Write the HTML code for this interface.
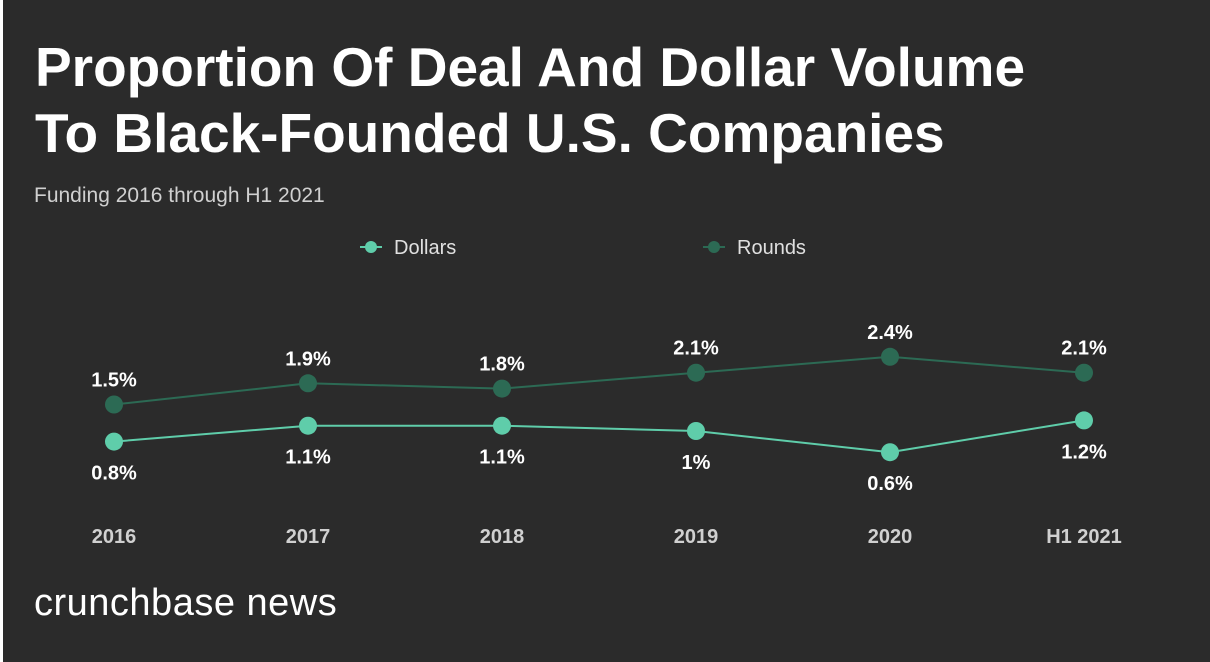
<!DOCTYPE html>
<html><head><meta charset="utf-8">
<style>
body{margin:0;background:#fff;}
#wrap{position:absolute;left:3px;top:0;width:1207px;height:662px;background:#2b2b2b;font-family:"Liberation Sans",sans-serif;color:#fff;overflow:hidden}
h1{position:absolute;left:32px;top:34px;margin:0;font-size:55px;line-height:66px;font-weight:bold;letter-spacing:0px}
.sub{position:absolute;left:31px;top:184px;font-size:21px;color:#d0d0d0}
.brand{position:absolute;left:31px;top:582px;font-size:38px;letter-spacing:0.5px}
svg{position:absolute;left:0;top:0}
</style></head><body>
<div id="wrap">
<h1>Proportion Of Deal And Dollar Volume<br>To Black-Founded U.S. Companies</h1>
<div class="sub">Funding 2016 through H1 2021</div>
<div class="brand">crunchbase news</div>
<svg id="chart" width="1207" height="662"></svg>
</div>
<script>
const categories=["2016","2017","2018","2019","2020","H1 2021"];
const dollars=[0.8,1.1,1.1,1.0,0.6,1.2];
const rounds=[1.5,1.9,1.8,2.1,2.4,2.1];
const dollarLabels=["0.8%","1.1%","1.1%","1%","0.6%","1.2%"];
const roundLabels=["1.5%","1.9%","1.8%","2.1%","2.4%","2.1%"];
const NS="http://www.w3.org/2000/svg";
const svg=document.getElementById('chart');
const x=i=>111+i*194;
const y=v=>484-53*v;
function mk(t,a,p){const e=document.createElementNS(NS,t);for(const k in a)e.setAttribute(k,a[k]);(p||svg).appendChild(e);return e;}
const series=[{name:"dollars",vals:dollars,labels:dollarLabels,color:"#5fcdaa",below:true},
{name:"rounds",vals:rounds,labels:roundLabels,color:"#2c6a54",below:false}];
series.forEach(s=>{
 const g=mk('g',{});
 
 
 const pl=mk('polyline',{points:s.vals.map((v,i)=>x(i)+','+y(v)).join(' '),fill:'none',stroke:s.color,'stroke-width':2},g);
 
 
 s.vals.forEach((v,i)=>{
  const c=mk('circle',{cx:x(i),cy:y(v),r:9,fill:s.color},g);
  
  
  const t=mk('text',{x:x(i),y:s.below?y(v)+38:y(v)-18,'text-anchor':'middle','font-size':20,'font-weight':'bold',fill:'#fff'},g);
  t.textContent=s.labels[i];
  
  
 });
});
categories.forEach((c,i)=>{
 const t=mk('text',{x:x(i),y:543,'text-anchor':'middle','font-size':20,'font-weight':'bold',fill:'#d0d0d0'});
 t.textContent=c;
 
 
});
[[367,"Dollars","#5fcdaa"],[710,"Rounds","#2c6a54"]].forEach(([lx,n,col])=>{
 const g=mk('g',{});
 
 
 mk('line',{x1:lx-10,x2:lx+12,y1:247,y2:247,stroke:col,'stroke-width':2},g);
 mk('circle',{cx:lx+1,cy:247,r:6,fill:col},g);
 const t=mk('text',{x:lx+24,y:254,'font-size':20,fill:'#e0e0e0'},g);
 t.textContent=n;
});
</script>
</body></html>
